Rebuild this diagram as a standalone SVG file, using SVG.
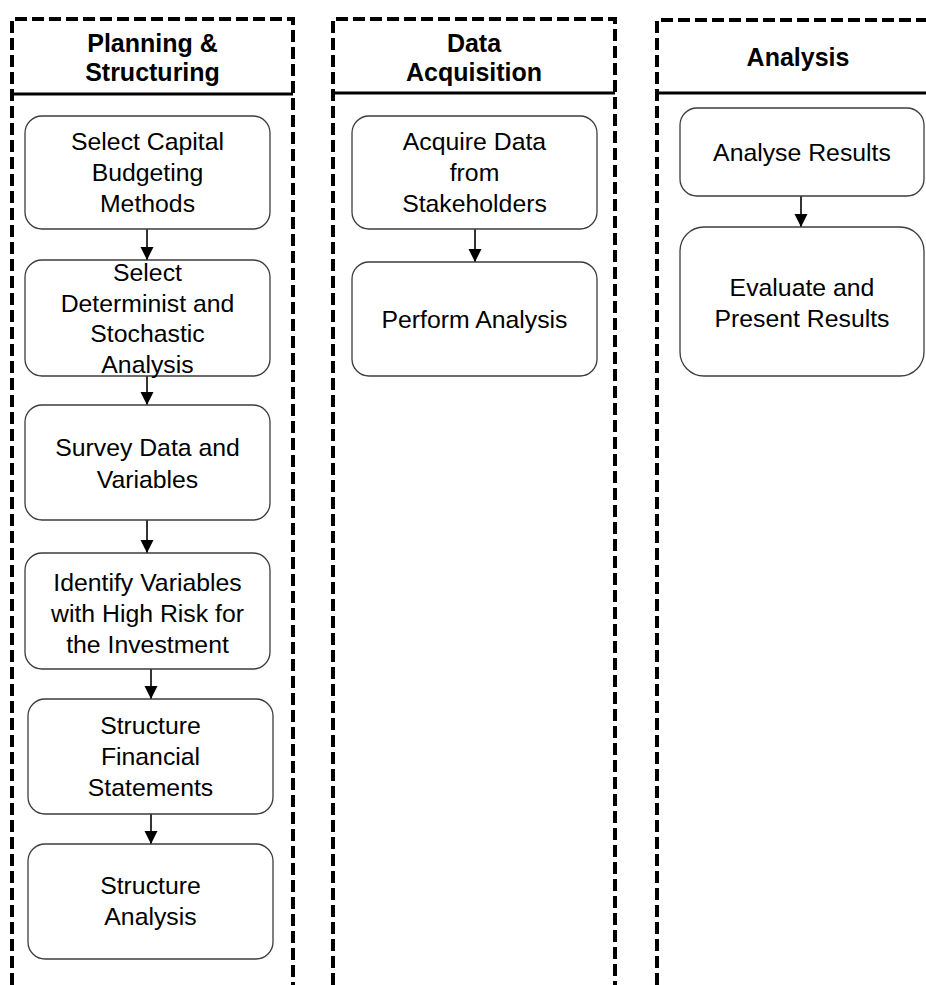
<svg xmlns="http://www.w3.org/2000/svg" width="926" height="985" viewBox="0 0 926 985">
  <style>
    .lane { fill: none; stroke: #000; stroke-width: 4; stroke-dasharray: 12 5; }
    .sep { stroke: #000; stroke-width: 3; }
    .box { fill: #fff; stroke: #3c3c3c; stroke-width: 1.3; }
    .hdr { font-family: "Liberation Sans", Arial, sans-serif; font-size: 25px; font-weight: bold; fill: #000; text-anchor: middle; }
    .lbl { font-family: "Liberation Sans", Arial, sans-serif; font-size: 24.8px; fill: #000; text-anchor: middle; }
    .conn { stroke: #000; stroke-width: 1.6; fill: none; marker-end: url(#arrow); }
  </style>
  <defs>
    <marker id="arrow" markerUnits="userSpaceOnUse" markerWidth="14" markerHeight="14" viewBox="0 0 14 14" refX="13" refY="7" orient="auto">
      <path d="M0,0.5 L13,7 L0,13.5 Z" fill="#000"/>
    </marker>
  </defs>
  <rect width="926" height="985" fill="#fff"/>

  <!-- Swimlanes -->
  <g id="lane-planning">
    <path class="lane" d="M12,985 V19 H293 V985"/>
    <line class="sep" x1="12" y1="94" x2="293" y2="94"/>
    <text class="hdr" x="152.5" y="52">Planning &amp;</text>
    <text class="hdr" x="152.5" y="81">Structuring</text>
  </g>
  <g id="lane-data">
    <path class="lane" d="M333,985 V19 H615 V985"/>
    <line class="sep" x1="333" y1="93" x2="615" y2="93"/>
    <text class="hdr" x="474" y="52">Data</text>
    <text class="hdr" x="474" y="81">Acquisition</text>
  </g>
  <g id="lane-analysis">
    <path class="lane" d="M657,985 V20 H930"/>
    <line class="sep" x1="657" y1="93" x2="930" y2="93"/>
    <text class="hdr" x="798" y="66">Analysis</text>
  </g>

  <!-- Connectors -->
  <g id="connectors">
    <line class="conn" x1="147" y1="229" x2="147" y2="260"/>
    <line class="conn" x1="147" y1="376" x2="147" y2="405"/>
    <line class="conn" x1="147" y1="520" x2="147" y2="553"/>
    <line class="conn" x1="151" y1="669" x2="151" y2="699"/>
    <line class="conn" x1="151" y1="814" x2="151" y2="844"/>
    <line class="conn" x1="475" y1="229" x2="475" y2="262"/>
    <line class="conn" x1="801" y1="196" x2="801" y2="227"/>
  </g>

  <!-- Planning & Structuring steps -->
  <g id="select-methods">
    <rect class="box" x="25" y="116" width="245" height="113" rx="17"/>
    <text class="lbl" x="147.5" y="150">Select Capital</text>
    <text class="lbl" x="147.5" y="181">Budgeting</text>
    <text class="lbl" x="147.5" y="212">Methods</text>
  </g>
  <g id="select-analysis">
    <rect class="box" x="25" y="260" width="245" height="116" rx="17"/>
    <text class="lbl" x="147.5" y="281">Select</text>
    <text class="lbl" x="147.5" y="311.5">Determinist and</text>
    <text class="lbl" x="147.5" y="342">Stochastic</text>
    <text class="lbl" x="147.5" y="372.5">Analysis</text>
  </g>
  <g id="survey-data">
    <rect class="box" x="25" y="405" width="245" height="115" rx="17"/>
    <text class="lbl" x="147.5" y="456">Survey Data and</text>
    <text class="lbl" x="147.5" y="487.5">Variables</text>
  </g>
  <g id="identify-variables">
    <rect class="box" x="25" y="553" width="245" height="116" rx="17"/>
    <text class="lbl" x="147.5" y="590.5">Identify Variables</text>
    <text class="lbl" x="147.5" y="621.5">with High Risk for</text>
    <text class="lbl" x="147.5" y="652.5">the Investment</text>
  </g>
  <g id="structure-statements">
    <rect class="box" x="28" y="699" width="245" height="115" rx="17"/>
    <text class="lbl" x="150.5" y="734">Structure</text>
    <text class="lbl" x="150.5" y="765">Financial</text>
    <text class="lbl" x="150.5" y="796">Statements</text>
  </g>
  <g id="structure-analysis">
    <rect class="box" x="28" y="844" width="245" height="115" rx="17"/>
    <text class="lbl" x="150.5" y="894">Structure</text>
    <text class="lbl" x="150.5" y="925">Analysis</text>
  </g>

  <!-- Data Acquisition steps -->
  <g id="acquire-data">
    <rect class="box" x="352" y="116" width="245" height="113" rx="17"/>
    <text class="lbl" x="474.5" y="150">Acquire Data</text>
    <text class="lbl" x="474.5" y="181">from</text>
    <text class="lbl" x="474.5" y="212">Stakeholders</text>
  </g>
  <g id="perform-analysis">
    <rect class="box" x="352" y="262" width="245" height="114" rx="17"/>
    <text class="lbl" x="474.5" y="328">Perform Analysis</text>
  </g>

  <!-- Analysis steps -->
  <g id="analyse-results">
    <rect class="box" x="680" y="108" width="244" height="88" rx="17"/>
    <text class="lbl" x="802" y="161">Analyse Results</text>
  </g>
  <g id="evaluate-results">
    <rect class="box" x="680" y="227" width="244" height="149" rx="24"/>
    <text class="lbl" x="802" y="296">Evaluate and</text>
    <text class="lbl" x="802" y="327">Present Results</text>
  </g>
</svg>
